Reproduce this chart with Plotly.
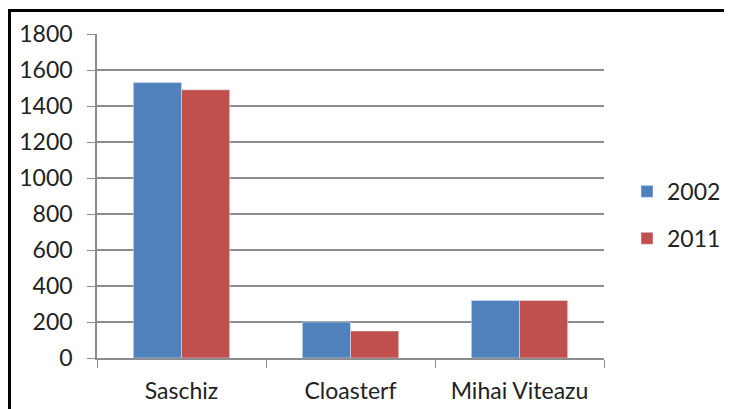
"""
Population by village, 2002 vs 2011 (clustered column chart)
"""

import plotly.graph_objects as go

villages = ["Saschiz", "Cloasterf", "Mihai Viteazu"]
pop_2002 = [1530, 200, 320]
pop_2011 = [1490, 150, 320]
y_ticks = [0, 200, 400, 600, 800, 1000, 1200, 1400, 1600, 1800]

FONT = "Lato, Calibri, sans-serif"
GRID = "#8c8c8c"

fig = go.Figure()
fig.add_trace(
    go.Bar(x=villages, y=pop_2002, name="2002", legendgroup="a", marker=dict(color="#4F81BD"))
)
fig.add_trace(
    go.Bar(x=villages, y=pop_2011, name="2011", legendgroup="b", marker=dict(color="#C0504D"))
)

# page body keeps its default 8px margin, so the figure is shrunk by that much
fig.update_layout(
    width=724,
    height=401,
    margin=dict(l=89, r=128, t=26, b=51, autoexpand=False),
    paper_bgcolor="white",
    plot_bgcolor="white",
    barmode="group",
    bargap=0.43,
    bargroupgap=0,
    font=dict(family=FONT, size=23, color="#222222"),
    showlegend=True,
    legend=dict(
        xref="container",
        yref="container",
        x=0.855,
        y=0.484,
        xanchor="left",
        yanchor="middle",
        itemwidth=30,
        tracegroupgap=14,
        borderwidth=0,
        font=dict(size=23),
    ),
    # outer frame of the chart box
    shapes=[
        dict(
            type="rect",
            xref="paper",
            yref="paper",
            x0=-0.1726,
            x1=1.5,
            y0=-0.5,
            y1=1.0725,
            line=dict(color="black", width=3),
        )
    ],
)

fig.update_yaxes(
    range=[0, 1800],
    tickvals=y_ticks,
    showgrid=True,
    gridcolor=GRID,
    gridwidth=1.5,
    showline=True,
    linecolor=GRID,
    linewidth=1.5,
    ticks="outside",
    ticklen=8,
    tickcolor=GRID,
    ticklabelstandoff=10,
    zeroline=False,
    automargin=False,
)
fig.update_xaxes(
    showline=True,
    linecolor=GRID,
    linewidth=1.5,
    ticks="outside",
    tickson="boundaries",
    ticklen=8,
    tickcolor=GRID,
    ticklabelstandoff=12,
    automargin=False,
)

fig.write_html("out.html")
